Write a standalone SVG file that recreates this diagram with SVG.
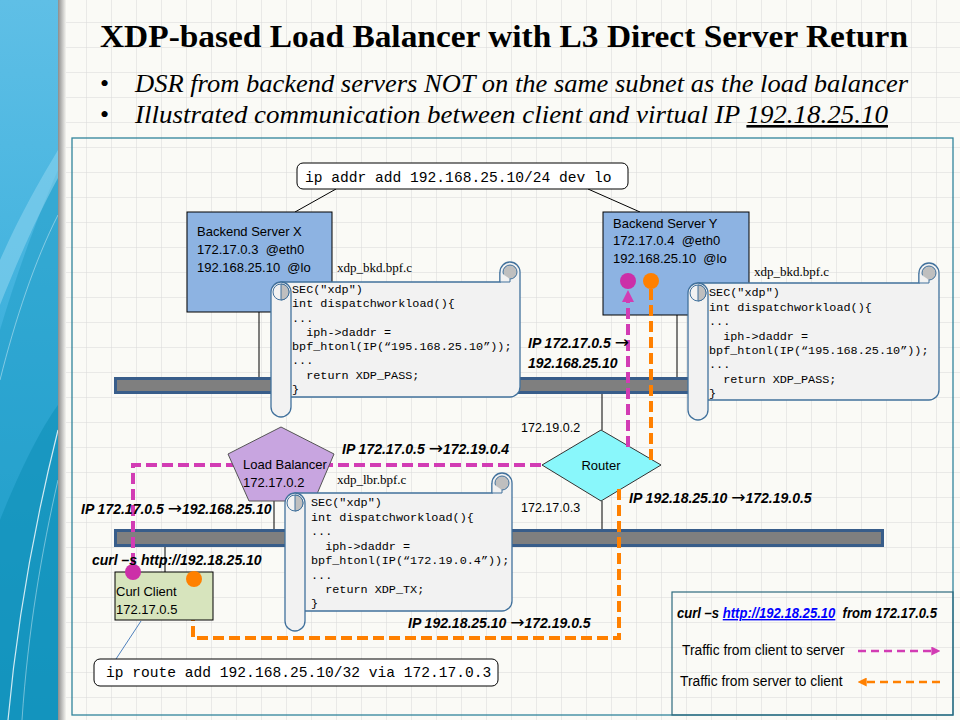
<svg xmlns="http://www.w3.org/2000/svg" width="960" height="720" viewBox="0 0 960 720">
<defs>
<style>
.srv{font-family:"Liberation Sans",Arial,sans-serif;font-size:13px;fill:#000}
.code{font-family:"Liberation Mono","Courier New",monospace;font-size:11.8px;fill:#000}
.lbl{font-family:"Liberation Sans",Arial,sans-serif;font-size:14px;font-weight:bold;font-style:italic;fill:#000}
.arr{font-family:"DejaVu Sans",sans-serif;font-weight:normal;font-style:normal;font-size:17px}
.fn{font-family:"Liberation Serif","Times New Roman",serif;font-size:13px;fill:#000}
.cmd{font-family:"Liberation Mono","Courier New",monospace;font-size:14.6px;fill:#000}
.ip{font-family:"Liberation Sans",Arial,sans-serif;font-size:12.5px;fill:#000}
.leg{font-family:"Liberation Sans",Arial,sans-serif;font-size:13.8px;fill:#000}
.scroll{fill:#f2f2f2;stroke:#41719c;stroke-width:1.3}
.curlg{fill:#bfbfbf;stroke:#41719c;stroke-width:1}
.curlw{fill:#f2f2f2;stroke:#41719c;stroke-width:1}
.bus{fill:#7f7f7f;stroke:#385d8a;stroke-width:3}
.link{stroke:#000;stroke-width:1;fill:none}
.c2s{stroke:#d23cb4;stroke-width:4;stroke-dasharray:11 5;fill:none}
.s2c{stroke:#ff8000;stroke-width:4;stroke-dasharray:11 5;fill:none}
.c2sl{stroke:#d23cb4;stroke-width:2.5;stroke-dasharray:8 5;fill:none}
.s2cl{stroke:#ff8000;stroke-width:2.5;stroke-dasharray:8 5;fill:none}
.cmdbox{fill:#fff;stroke:#000;stroke-width:1}
</style>
<pattern id="grid" x="12" y="23" width="25" height="25" patternUnits="userSpaceOnUse">
<path d="M25,0 V25 M0,25 H25" fill="none" stroke="#d8d8d8" stroke-width="1"/>
</pattern>
<linearGradient id="band" x1="0" y1="0" x2="0" y2="1">
<stop offset="0" stop-color="#5fbfe6"/>
<stop offset="0.5" stop-color="#3cb0dc"/>
<stop offset="1" stop-color="#1f9fcc"/>
</linearGradient>
<linearGradient id="shadow" x1="0" y1="0" x2="1" y2="0">
<stop offset="0" stop-color="#8c8c8c"/>
<stop offset="1" stop-color="#f4f4f0"/>
</linearGradient>
<marker id="mArrow" viewBox="0 0 12 12" refX="4" refY="6" markerWidth="12" markerHeight="12" markerUnits="userSpaceOnUse" orient="auto">
<path d="M0,0 L12,6 L0,12 Z" fill="#d23cb4"/>
</marker>
<marker id="oArrow" viewBox="0 0 12 12" refX="4" refY="6" markerWidth="12" markerHeight="12" markerUnits="userSpaceOnUse" orient="auto">
<path d="M0,0 L12,6 L0,12 Z" fill="#ff8000"/>
</marker>
<marker id="mArrowS" viewBox="0 0 10 10" refX="3" refY="5" markerWidth="9" markerHeight="9" markerUnits="userSpaceOnUse" orient="auto">
<path d="M0,0 L10,5 L0,10 Z" fill="#d23cb4"/>
</marker>
<marker id="oArrowS" viewBox="0 0 10 10" refX="3" refY="5" markerWidth="9" markerHeight="9" markerUnits="userSpaceOnUse" orient="auto">
<path d="M0,0 L10,5 L0,10 Z" fill="#ff8000"/>
</marker>
</defs>

<!-- background -->
<rect x="0" y="0" width="960" height="720" fill="#fafaf6"/>
<rect x="0" y="0" width="960" height="720" fill="url(#grid)"/>
<rect x="0" y="0" width="58" height="720" fill="url(#band)"/>
<path d="M0,330 C18,270 38,215 58,170 L58,720 L0,720 Z" fill="#1a98c4" opacity="0.45"/>
<path d="M0,260 C20,215 40,180 58,150 L58,178 C38,215 20,255 0,305 Z" fill="#8fd6f0" opacity="0.55"/>
<path d="M0,520 C20,470 40,430 58,405 L58,720 L0,720 Z" fill="#0a8cb4" opacity="0.5"/>
<path d="M58,430 C38,510 18,610 8,720" fill="none" stroke="#ffffff" stroke-width="1.2" opacity="0.8"/>
<path d="M58,480 C42,550 28,630 22,720" fill="none" stroke="#ffffff" stroke-width="0.8" opacity="0.5"/>
<path d="M0,380 C15,320 35,260 58,215" fill="none" stroke="#ffffff" stroke-width="0.8" opacity="0.5"/>
<rect x="58" y="0" width="8" height="720" fill="url(#shadow)"/>

<!-- title -->
<text x="100" y="47" font-family="'Liberation Serif','Times New Roman',serif" font-size="32" font-weight="bold" textLength="808" lengthAdjust="spacingAndGlyphs">XDP-based Load Balancer with L3 Direct Server Return</text>
<text x="100" y="92" font-family="'Liberation Serif',serif" font-size="26">•</text>
<text x="100" y="123" font-family="'Liberation Serif',serif" font-size="26">•</text>
<text x="135" y="92" font-family="'Liberation Serif','Times New Roman',serif" font-size="26" font-style="italic" textLength="773" lengthAdjust="spacingAndGlyphs">DSR from backend servers NOT on the same subnet as the load balancer</text>
<text x="135" y="123" font-family="'Liberation Serif','Times New Roman',serif" font-size="26" font-style="italic" textLength="753" lengthAdjust="spacingAndGlyphs">Illustrated communication between client and virtual IP <tspan text-decoration="underline">192.18.25.10</tspan></text>

<!-- frame -->
<rect x="72" y="138" width="881" height="577" fill="none" stroke="#31849b" stroke-width="1.3"/>

<!-- connectors -->
<g id="connectors">
<line class="link" x1="336" y1="189" x2="295" y2="212"/>
<line class="link" x1="588" y1="189" x2="640" y2="212"/>
<line class="link" x1="259" y1="312" x2="259" y2="378"/>
<line class="link" x1="677" y1="315" x2="677" y2="378"/>
<line class="link" x1="602" y1="393" x2="602" y2="430"/>
<line class="link" x1="602" y1="501" x2="602" y2="531"/>
<line class="link" x1="274" y1="501" x2="274" y2="531"/>
<line class="link" x1="165" y1="546" x2="165" y2="572"/>
<line x1="141" y1="621" x2="116" y2="659" stroke="#4f81bd" stroke-width="1"/>
</g>

<!-- networks -->
<g id="net-top"><rect class="bus" x="115.5" y="378.5" width="767" height="14"/></g>
<g id="net-bottom"><rect class="bus" x="115.5" y="530.5" width="767" height="15"/></g>

<!-- backend server X -->
<g id="server-x">
<rect x="187" y="212" width="145" height="100" fill="#8db3e2" stroke="#000" stroke-width="1"/>
<text class="srv" x="197" y="236">Backend Server X</text>
<text class="srv" x="197" y="254" xml:space="preserve">172.17.0.3  @eth0</text>
<text class="srv" x="197" y="272" xml:space="preserve">192.168.25.10  @lo</text>
</g>

<!-- backend server Y -->
<g id="server-y">
<rect x="603" y="212" width="146" height="103" fill="#8db3e2" stroke="#000" stroke-width="1"/>
<text class="srv" x="613" y="228">Backend Server Y</text>
<text class="srv" x="613" y="245" xml:space="preserve">172.17.0.4  @eth0</text>
<text class="srv" x="613" y="263" xml:space="preserve">192.168.25.10  @lo</text>
</g>

<!-- router -->
<g id="router">
<polygon points="601,430 661,465 601,501 542,465" fill="#89f7fb" stroke="#333" stroke-width="1"/>
<text class="srv" x="601" y="470" text-anchor="middle" font-size="13.5">Router</text>
</g>
<text class="ip" x="521" y="432">172.19.0.2</text>
<text class="ip" x="521" y="512">172.17.0.3</text>

<!-- traffic paths -->
<g id="traffic">
<path class="c2s" d="M133,564 V465 H542"/>
<path class="c2s" d="M628,447 V298" marker-end="url(#mArrow)"/>
<path class="s2c" d="M651,289 V462"/>
<path class="s2c" d="M619,489 V638 H193 V596" marker-end="url(#oArrow)"/>
</g>

<!-- load balancer -->
<g id="load-balancer">
<polygon points="281,427 334,454 314,501 249,501 228,454" fill="#c8a5e0" stroke="#555" stroke-width="1"/>
<text class="srv" x="243" y="469">Load Balancer</text>
<text class="srv" x="243" y="487">172.17.0.2</text>
</g>

<!-- curl client -->
<g id="curl-client">
<rect x="115" y="572" width="98" height="48" fill="#d7e4bd" stroke="#000" stroke-width="1"/>
<text class="srv" x="116" y="596" font-size="13.5">Curl Client</text>
<text class="srv" x="116" y="614" font-size="13.5">172.17.0.5</text>
</g>

<!-- endpoint dots -->
<circle cx="628" cy="281" r="8" fill="#cc2fa8"/>
<circle cx="651" cy="281" r="8" fill="#ff8000"/>
<circle cx="133" cy="572" r="8" fill="#cc2fa8"/>
<circle cx="194" cy="579" r="8" fill="#ff8000"/>

<!-- scroll X -->
<g id="code-bkd-x">
<path class="scroll" d="M281,282 H500 V272 A10,10 0 0 1 520,272 V387 A10,10 0 0 1 510,397 H281 Z"/>
<circle class="curlg" cx="510" cy="272" r="7"/>
<path class="curlw" d="M500,272 V282 H510 V279"/>
<rect class="scroll" x="271" y="282" width="20" height="135" rx="10"/>
<circle class="curlw" cx="281" cy="292" r="8"/>
<path class="curlg" d="M281,284 A8,8 0 0 1 281,300 Z"/>
<text class="code" xml:space="preserve"><tspan x="292" y="293">SEC("xdp")</tspan><tspan x="292" y="307">int dispatchworkload(){</tspan><tspan x="292" y="322">...</tspan><tspan x="292" y="336">  iph-&gt;daddr =</tspan><tspan x="292" y="350">bpf_htonl(IP(“195.168.25.10”));</tspan><tspan x="292" y="364">...</tspan><tspan x="292" y="379">  return XDP_PASS;</tspan><tspan x="292" y="393">}</tspan></text>
</g>
<text class="fn" x="337" y="272">xdp_bkd.bpf.c</text>

<!-- scroll Y -->
<g id="code-bkd-y">
<path class="scroll" d="M698,283 H919 V273 A10,10 0 0 1 939,273 V390 A10,10 0 0 1 929,400 H698 Z"/>
<circle class="curlg" cx="929" cy="273" r="7"/>
<path class="curlw" d="M919,273 V283 H929 V280"/>
<rect class="scroll" x="688" y="283" width="20" height="137" rx="10"/>
<circle class="curlw" cx="698" cy="293" r="8"/>
<path class="curlg" d="M698,285 A8,8 0 0 1 698,301 Z"/>
<text class="code" xml:space="preserve"><tspan x="709" y="296">SEC("xdp")</tspan><tspan x="709" y="311">int dispatchworkload(){</tspan><tspan x="709" y="325">...</tspan><tspan x="709" y="340">  iph-&gt;daddr =</tspan><tspan x="709" y="354">bpf_htonl(IP(“195.168.25.10”));</tspan><tspan x="709" y="368">...</tspan><tspan x="709" y="383">  return XDP_PASS;</tspan><tspan x="709" y="397">}</tspan></text>
</g>
<text class="fn" x="754" y="276">xdp_bkd.bpf.c</text>

<!-- scroll LB -->
<g id="code-lbr">
<path class="scroll" d="M295,493 H492 V483 A10,10 0 0 1 512,483 V601 A10,10 0 0 1 502,611 H295 Z"/>
<circle class="curlg" cx="502" cy="483" r="7"/>
<path class="curlw" d="M492,483 V493 H502 V490"/>
<rect class="scroll" x="285" y="493" width="20" height="138" rx="10"/>
<circle class="curlw" cx="295" cy="503" r="8"/>
<path class="curlg" d="M295,495 A8,8 0 0 1 295,511 Z"/>
<text class="code" xml:space="preserve"><tspan x="311" y="506">SEC("xdp")</tspan><tspan x="311" y="521">int dispatchworkload(){</tspan><tspan x="311" y="535">...</tspan><tspan x="311" y="550">  iph-&gt;daddr =</tspan><tspan x="311" y="564">bpf_htonl(IP(“172.19.0.4”));</tspan><tspan x="311" y="579">...</tspan><tspan x="311" y="593">  return XDP_TX;</tspan><tspan x="311" y="607">}</tspan></text>
</g>
<text class="fn" x="337" y="484">xdp_lbr.bpf.c</text>

<!-- command boxes -->
<g id="cmd-addr">
<rect class="cmdbox" x="297" y="163" width="331" height="26" rx="6"/>
<text class="cmd" x="305" y="182">ip addr add 192.168.25.10/24 dev lo</text>
</g>
<g id="cmd-route">
<rect class="cmdbox" x="94" y="659" width="404" height="27" rx="6"/>
<text class="cmd" x="106" y="677">ip route add 192.168.25.10/32 via 172.17.0.3</text>
</g>

<!-- packet labels -->
<text class="lbl" x="528" y="348">IP 172.17.0.5 <tspan class="arr">→</tspan></text>
<text class="lbl" x="528" y="368">192.168.25.10</text>
<text class="lbl" x="342" y="454">IP 172.17.0.5 <tspan class="arr">→</tspan>172.19.0.4</text>
<text class="lbl" x="81" y="514">IP 172.17.0.5 <tspan class="arr">→</tspan>192.168.25.10</text>
<text class="lbl" x="92" y="565">curl –s http://192.18.25.10</text>
<text class="lbl" x="629" y="503">IP 192.18.25.10 <tspan class="arr">→</tspan>172.19.0.5</text>
<text class="lbl" x="408" y="628">IP 192.18.25.10 <tspan class="arr">→</tspan>172.19.0.5</text>

<!-- legend -->
<g id="legend">
<rect x="672" y="592" width="281" height="123" fill="none" stroke="#2d6a7e" stroke-width="1.2"/>
<text class="lbl" x="677" y="618" font-size="12.5" xml:space="preserve" textLength="260" lengthAdjust="spacingAndGlyphs">curl –s <tspan fill="#0000ff" text-decoration="underline">http://192.18.25.10</tspan>  from 172.17.0.5</text>
<text class="leg" x="682" y="655">Traffic from client to server</text>
<path class="c2sl" d="M858,651 H934" marker-end="url(#mArrowS)"/>
<text class="leg" x="680" y="686">Traffic from server to client</text>
<path class="s2cl" d="M940,682 H864" marker-end="url(#oArrowS)"/>
</g>
</svg>
